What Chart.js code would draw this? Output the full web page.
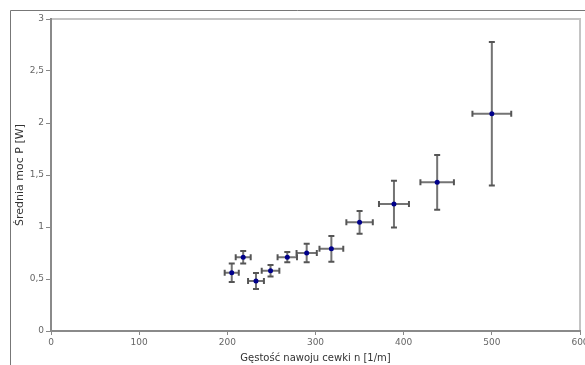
<!DOCTYPE html>
<html>
<head>
<meta charset="utf-8">
<script src="https://cdn.jsdelivr.net/npm/chart.js@4/dist/chart.umd.min.js"></script>
<style>
  html, body { margin: 0; padding: 0; background: #fff; }
  #wrap { width: 585px; height: 365px; }
</style>
</head>
<body>
<div id="wrap"><canvas id="powerChart"></canvas></div>
<script>
// --- dane pomiarowe ---
const xVals = [205, 218, 232.5, 249, 268, 290, 318, 350, 389, 438, 500];
const yVals = [0.56, 0.71, 0.48, 0.58, 0.71, 0.75, 0.79, 1.045, 1.22, 1.43, 2.09];
const xErr  = [8, 8.5, 9, 10, 11, 11.5, 13.5, 15, 17, 19, 22];
const yErr  = [0.09, 0.06, 0.077, 0.055, 0.05, 0.09, 0.123, 0.11, 0.225, 0.263, 0.69];
const xTicks = [0, 100, 200, 300, 400, 500, 600];
const yTicks = [0, 0.5, 1, 1.5, 2, 2.5, 3];

// ramka wykresu + zewnetrzne linie
const framePlugin = {
    id: 'frame',
    beforeDraw(chart) {
        const c = chart.ctx;
        const a = chart.chartArea;
        c.save();
        c.strokeStyle = '#777';
        c.lineWidth = 1;
        c.beginPath();
        c.moveTo(10.5, 365);
        c.lineTo(10.5, 10.5);
        c.lineTo(585, 10.5);
        c.stroke();
        c.strokeStyle = '#c4c4c4';
        c.lineWidth = 2;
        c.beginPath();
        c.moveTo(a.left, a.top);
        c.lineTo(a.right, a.top);
        c.lineTo(a.right, a.bottom);
        c.stroke();
        c.restore();
    }
};

// slupki bledow
const errorBarPlugin = {
    id: 'errorBars',
    beforeDatasetsDraw(chart) {
        const c = chart.ctx;
        const xs = chart.scales.x, ys = chart.scales.y;
        const cap = 3;
        c.save();
        c.lineWidth = 2;
        for (let i = 0; i < xVals.length; i++) {
            const px = xs.getPixelForValue(xVals[i]);
            const py = ys.getPixelForValue(yVals[i]);
            const x1 = xs.getPixelForValue(xVals[i] - xErr[i]);
            const x2 = xs.getPixelForValue(xVals[i] + xErr[i]);
            const y1 = ys.getPixelForValue(yVals[i] - yErr[i]);
            const y2 = ys.getPixelForValue(yVals[i] + yErr[i]);
            c.strokeStyle = '#747474';
            c.beginPath();
            c.moveTo(x1, py); c.lineTo(x2, py);
            c.moveTo(px, y1); c.lineTo(px, y2);
            c.stroke();
            c.strokeStyle = '#555';
            c.beginPath();
            c.moveTo(x1, py - cap); c.lineTo(x1, py + cap);
            c.moveTo(x2, py - cap); c.lineTo(x2, py + cap);
            c.moveTo(px - cap, y1); c.lineTo(px + cap, y1);
            c.moveTo(px - cap, y2); c.lineTo(px + cap, y2);
            c.stroke();
        }
        c.restore();
    }
};

const points = xVals.map((x, i) => ({ x: x, y: yVals[i] }));

new Chart(document.getElementById('powerChart'), {
    type: 'scatter',
    data: {
        datasets: [{
            data: points,
            backgroundColor: '#00008b',
            borderColor: '#00008b',
            pointRadius: 2.5,
            pointHoverRadius: 2.5,
            borderWidth: 0
        }]
    },
    options: {
        responsive: true,
        maintainAspectRatio: false,
        animation: false,
        layout: { padding: { left: 0, top: 19, right: 5, bottom: 0 } },
        plugins: { legend: { display: false }, tooltip: { enabled: false } },
        scales: {
            x: {
                type: 'linear',
                min: 0, max: 600,
                afterBuildTicks: (s) => { s.ticks = xTicks.map(v => ({ value: v })); },
                afterFit: (s) => { s.height = 34; s.paddingLeft = 0; s.paddingRight = 0; },
                ticks: { color: '#666', font: { family: 'DejaVu Sans', size: 9 }, padding: 2, maxRotation: 0 },
                grid: { display: true, drawOnChartArea: false, tickLength: 4, color: '#888', lineWidth: 1 },
                border: { display: true, color: '#8a8a8a', width: 2 },
                title: {
                    display: true,
                    text: 'Gęstość nawoju cewki n [1/m]',
                    color: '#333',
                    font: { family: 'DejaVu Sans', size: 10 },
                    padding: { top: 0, bottom: 0.5 }
                }
            },
            y: {
                type: 'linear',
                min: 0, max: 3,
                afterBuildTicks: (s) => { s.ticks = yTicks.map(v => ({ value: v })); },
                afterFit: (s) => { s.width = 51; s.paddingTop = 0; s.paddingBottom = 0; },
                ticks: {
                    color: '#666', font: { family: 'DejaVu Sans', size: 9 }, padding: 2,
                    callback: (v) => String(v).replace('.', ',')
                },
                grid: { display: true, drawOnChartArea: false, tickLength: 5, color: '#888', lineWidth: 1 },
                border: { display: true, color: '#8a8a8a', width: 2 },
                title: {
                    display: true,
                    text: 'Średnia moc P [W]',
                    color: '#333',
                    font: { family: 'DejaVu Sans', size: 11 },
                    padding: { top: 13.5, bottom: 0 }
                }
            }
        }
    },
    plugins: [framePlugin, errorBarPlugin]
});
</script>
</body>
</html>
